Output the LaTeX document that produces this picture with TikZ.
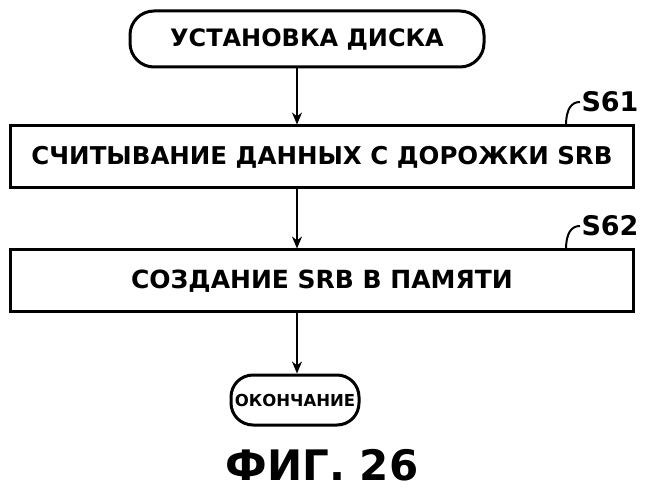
\documentclass[tikz,border=0pt]{standalone}
\usepackage{fontspec}
\setmainfont{DejaVu Sans}
\usetikzlibrary{arrows.meta}
\begin{document}
\begin{tikzpicture}[x=1pt,y=-1pt,line width=3pt,
  term/.style={draw,rounded corners=24pt,minimum height=56pt,inner sep=0pt,font=\bfseries\fontsize{24}{26}\selectfont},
  box/.style={draw,minimum width=623pt,minimum height=62pt,inner sep=0pt,font=\bfseries\fontsize{25}{28}\selectfont},
  arr/.style={-{Stealth[length=12pt,width=10pt]},line width=2pt},
  lab/.style={font=\bfseries\fontsize{27}{30}\selectfont,anchor=west,inner sep=0pt}]
\useasboundingbox (0,0) rectangle (649,500);
\node[term,minimum width=354pt] (start) at (307,39) {УСТАНОВКА ДИСКА};
\node[box] (s61) at (322,157) {\fontsize{24.5}{28}\selectfont СЧИТЫВАНИЕ ДАННЫХ С ДОРОЖКИ SRB};
\node[box] (s62) at (322,281) {СОЗДАНИЕ SRB В ПАМЯТИ};
\node[term,minimum width=128pt,minimum height=50pt,rounded corners=22pt,font=\bfseries\fontsize{16.5}{18}\selectfont] (end) at (295,400) {ОКОНЧАНИЕ};
\draw[arr] (start.south -| 297,0) -- (s61.north -| 297,0);
\draw[arr] (s61.south -| 297,0) -- (s62.north -| 297,0);
\draw[arr] (s62.south -| 297,0) -- (end.north -| 297,0);
\node[lab] (l61) at (580,102) {S61};
\node[lab] (l62) at (580,226) {S62};
\coordinate (c61) at (566,126);
\coordinate (c62) at (566,250);
\draw[line width=2pt] (c61) .. controls (566,108) and (572,102) .. (l61.west);
\draw[line width=2pt] (c62) .. controls (566,232) and (572,226) .. (l62.west);
\node[font=\bfseries\fontsize{42}{46}\selectfont] (cap) at (322,465) {ФИГ. 26};
\end{tikzpicture}
\end{document}
